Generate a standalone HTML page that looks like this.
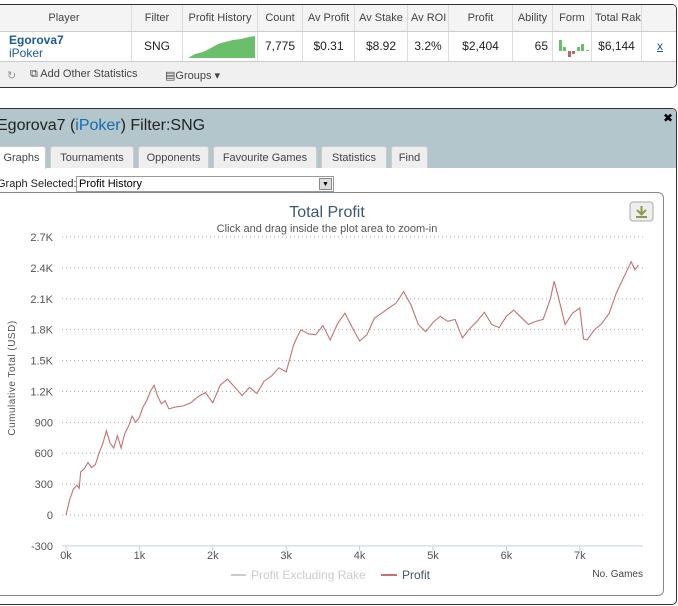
<!DOCTYPE html>
<html><head><meta charset="utf-8">
<style>
*{box-sizing:border-box;margin:0;padding:0}
body{width:678px;height:606px;overflow:hidden;background:#fff;font-family:"Liberation Sans","DejaVu Sans",sans-serif;position:relative}
.abs{position:absolute}
#tbl{left:-4px;top:4px;width:681px;height:84px;border:1px solid #333;border-radius:0 5px 5px 0;background:#fff;overflow:hidden}
.hc{position:absolute;top:0;height:26px;line-height:26px;font-size:11px;color:#444;text-align:center;border-right:1px solid #ddd;background:#f4f4f4;overflow:hidden;white-space:nowrap}
.dc{position:absolute;top:27px;height:29px;line-height:29px;font-size:12px;color:#222;text-align:center;border-right:1px solid #ddd;overflow:hidden;white-space:nowrap}
#panel{left:-4px;top:108px;width:681px;height:497px;border:1px solid #333;border-radius:0 5px 5px 0;overflow:hidden;background:#fff}
.tab{position:absolute;top:37px;height:22px;line-height:22px;font-size:11px;color:#444;background:#eee;border:1px solid #ccc;border-bottom:none;text-align:center;border-radius:3px 3px 0 0}
</style></head><body>
<div id="tbl" class="abs">
  <div class="hc" style="left:0;width:135px">Player</div>
  <div class="hc" style="left:135px;width:51px">Filter</div>
  <div class="hc" style="left:186px;width:75px">Profit History</div>
  <div class="hc" style="left:261px;width:45px">Count</div>
  <div class="hc" style="left:306px;width:52px">Av Profit</div>
  <div class="hc" style="left:358px;width:53px">Av Stake</div>
  <div class="hc" style="left:411px;width:41px;text-align:left;padding-left:3px">Av ROI</div>
  <div class="hc" style="left:452px;width:64px">Profit</div>
  <div class="hc" style="left:516px;width:40px">Ability</div>
  <div class="hc" style="left:556px;width:39px">Form</div>
  <div class="hc" style="left:595px;width:50px;text-align:left;padding-left:3px">Total Rake</div>
  <div class="hc" style="left:645px;width:36px"></div>
  <div class="abs" style="left:0;top:26px;width:681px;height:1px;background:#ccc"></div>
  <div class="dc" style="left:0;width:135px;text-align:left;padding-left:12px;line-height:13px;padding-top:2px"><b style="color:#1a5a9a">Egorova7</b><br><span style="color:#1a5a9a">iPoker</span></div>
  <div class="dc" style="left:135px;width:51px">SNG</div>
  <div class="dc" style="left:186px;width:75px">
    <svg width="75" height="29" style="position:absolute;left:0;top:0"><path d="M5 26 L12 22 L20 20 L28 16 L35 12 L42 10 L50 8 L58 7 L66 5 L72 4 L72 26 Z" fill="#6bbf6b"/></svg>
  </div>
  <div class="dc" style="left:261px;width:45px">7,775</div>
  <div class="dc" style="left:306px;width:52px">$0.31</div>
  <div class="dc" style="left:358px;width:53px">$8.92</div>
  <div class="dc" style="left:411px;width:41px">3.2%</div>
  <div class="dc" style="left:452px;width:64px">$2,404</div>
  <div class="dc" style="left:516px;width:40px;text-align:right;padding-right:4px">65</div>
  <div class="dc" style="left:556px;width:39px">
    <svg width="39" height="29" style="position:absolute;left:0;top:0"><rect x="6" y="8" width="3" height="11" fill="#6bbf6b"/><rect x="10" y="15" width="3" height="4" fill="#6bbf6b"/><rect x="15" y="19" width="3" height="6" fill="#b86a6a"/><rect x="19" y="19" width="3" height="3" fill="#b86a6a"/><rect x="24" y="15" width="3" height="4" fill="#6bbf6b"/><rect x="28" y="12" width="3" height="7" fill="#6bbf6b"/><rect x="33" y="18" width="3" height="1" fill="#6bbf6b"/></svg>
  </div>
  <div class="dc" style="left:595px;width:50px">$6,144</div>
  <div class="dc" style="left:645px;width:36px;color:#1a5a9a;text-decoration:underline;border:none">x</div>
  <div class="abs" style="left:0;top:56px;width:681px;height:28px;background:#f0f0f0;border-top:1px solid #ccc;font-size:11px;color:#444">
    <span class="abs" style="left:10px;top:7px;color:#999">&#x21BB;</span>
    <span class="abs" style="left:33px;top:6px">&#x29C9; Add Other Statistics</span>
    <span class="abs" style="left:168px;top:7px">&#x25A4;Groups &#x25BE;</span>
  </div>
</div>

<div id="panel" class="abs">
  <div class="abs" style="left:0;top:0;width:681px;height:59px;background:#b3c6cc"></div>
  <div class="abs" style="left:0;top:8px;font-size:16px;color:#222">Egorova7 (<span style="color:#1a6ab0">iPoker</span>) Filter:SNG</div>
  <div class="abs" style="left:666px;top:2px;font-size:12px;font-weight:bold">&#x2716;</div>
  <div class="tab" style="left:0;width:49px;background:#fff;height:23px">Graphs</div>
  <div class="tab" style="left:53px;width:84px">Tournaments</div>
  <div class="tab" style="left:141px;width:71px">Opponents</div>
  <div class="tab" style="left:216px;width:104px">Favourite Games</div>
  <div class="tab" style="left:324px;width:66px">Statistics</div>
  <div class="tab" style="left:394px;width:37px">Find</div>
  <div class="abs" style="left:0;top:69px;font-size:11px;color:#222">Graph Selected:</div>
  <div class="abs" style="left:79px;top:67px;width:258px;height:16px;border:1px solid #999;font-size:11px;padding-left:2px;line-height:14px">Profit History<span class="abs" style="right:1px;top:1px;width:13px;height:12px;border:1px solid #888;background:#ddd;font-size:7px;line-height:11px;text-align:center">&#x25BC;</span></div>
  <div class="abs" style="left:0;top:83px;width:667px;height:404px;border:1px solid #888;border-radius:0 6px 6px 0"></div>
</div>

<svg class="abs" id="chart" style="left:0;top:0" width="678" height="606">
  <text x="327" y="217" text-anchor="middle" font-size="16" fill="#3e576f">Total Profit</text>
  <text x="327" y="232" text-anchor="middle" font-size="11" fill="#555">Click and drag inside the plot area to zoom-in</text>
  <g><rect x="630" y="202" width="23" height="19" rx="3" fill="#eee" stroke="#aaa"/><path d="M641.5 206 v8 M637 210 l4.5 4.5 l4.5 -4.5 M636 217 h11" stroke="#8a9a50" stroke-width="2" fill="none"/></g>
  <text transform="translate(15,378) rotate(-90)" text-anchor="middle" font-size="10" fill="#555" letter-spacing="0.5">Cumulative Total (USD)</text>
  <text x="643" y="577" text-anchor="end" font-size="10" fill="#444">No. Games</text>
  <g id="grid"></g><g id="axes"></g>
  <path id="line" fill="none" stroke="#c47272" stroke-width="1.1"/>
  <g><line x1="231" y1="575" x2="246" y2="575" stroke="#ccc" stroke-width="2"/><text x="251" y="579" font-size="12" fill="#ccc">Profit Excluding Rake</text></g>
  <g><line x1="381" y1="575" x2="397" y2="575" stroke="#c47272" stroke-width="2"/><text x="402" y="579" font-size="12" fill="#3e576f">Profit</text></g>
</svg>
<script>
const games=[0,50,100,150,180,200,250,300,350,400,450,500,550,600,650,700,750,800,850,900,950,1000,1050,1100,1150,1200,1250,1300,1350,1400,1500,1600,1700,1800,1900,2000,2100,2200,2300,2400,2500,2600,2700,2800,2900,3000,3050,3100,3150,3200,3300,3400,3500,3600,3700,3800,3900,4000,4100,4200,4300,4400,4500,4600,4700,4800,4900,5000,5100,5200,5300,5400,5500,5600,5700,5800,5900,6000,6100,6200,6300,6400,6500,6600,6650,6700,6800,6900,7000,7050,7100,7200,7300,7400,7500,7600,7700,7750,7800];
const profit=[0,150,250,290,260,420,450,510,460,490,600,690,820,700,650,770,650,790,860,960,900,950,1050,1110,1200,1260,1150,1080,1110,1030,1050,1060,1090,1150,1190,1090,1260,1320,1240,1160,1240,1180,1300,1350,1430,1390,1520,1650,1730,1800,1760,1750,1840,1700,1860,1960,1820,1690,1750,1910,1960,2010,2060,2170,2040,1850,1780,1870,1930,1880,1900,1720,1810,1880,1970,1850,1820,1930,1990,1920,1850,1880,1900,2100,2270,2140,1850,1960,2010,1710,1700,1800,1860,1960,2160,2310,2460,2380,2430];
const yTicks=[-300,0,300,600,900,1200,1500,1800,2100,2400,2700];
const yTickLabels=["-300","0","300","600","900","1.2K","1.5K","1.8K","2.1K","2.4K","2.7K"];
const xTicks=[0,1000,2000,3000,4000,5000,6000,7000];
const xTickLabels=["0k","1k","2k","3k","4k","5k","6k","7k"];
const X=v=>66+v*0.0734, Y=v=>515-v*(278/2700);
const NS="http://www.w3.org/2000/svg";
const grid=document.getElementById('grid'), axes=document.getElementById('axes');
yTicks.forEach((t,i)=>{
  const y=Y(t);
  const l=document.createElementNS(NS,'line');
  
  
  l.setAttribute('x1',62);l.setAttribute('x2',643);l.setAttribute('y1',y);l.setAttribute('y2',y);
  l.setAttribute('stroke',t===-300?'#c0d0e0':'#aaa');l.setAttribute('stroke-dasharray',t===-300?'':'1,3');
  grid.appendChild(l);
  const tx=document.createElementNS(NS,'text');
  
  
  tx.setAttribute('x',53);tx.setAttribute('y',y+4);tx.setAttribute('text-anchor','end');tx.setAttribute('font-size','11');tx.setAttribute('fill','#555');
  tx.textContent=yTickLabels[i];axes.appendChild(tx);
});
xTicks.forEach((t,i)=>{
  const x=X(t);
  const l=document.createElementNS(NS,'line');
  
  
  l.setAttribute('x1',x);l.setAttribute('x2',x);l.setAttribute('y1',546);l.setAttribute('y2',551);l.setAttribute('stroke','#c0d0e0');
  axes.appendChild(l);
  const tx=document.createElementNS(NS,'text');
  
  
  tx.setAttribute('x',x);tx.setAttribute('y',559);tx.setAttribute('text-anchor','middle');tx.setAttribute('font-size','11');tx.setAttribute('fill','#555');
  tx.textContent=xTickLabels[i];axes.appendChild(tx);
});
document.getElementById('line').setAttribute('d',games.map((g,i)=>(i?'L':'M')+X(g).toFixed(1)+' '+Y(profit[i]).toFixed(1)).join(' '));
</script>
</body></html>
